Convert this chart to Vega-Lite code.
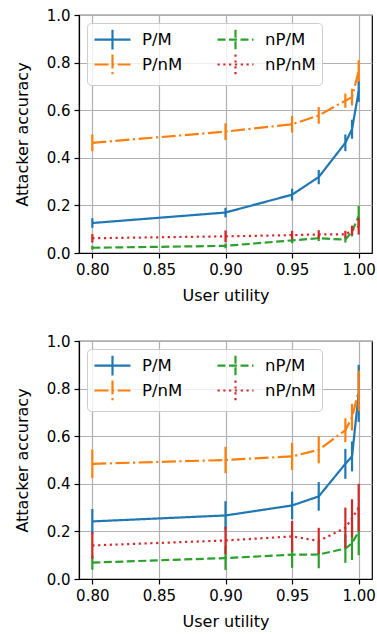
{
  "$schema": "https://vega.github.io/schema/vega-lite/v6.json",
  "background": "white",
  "padding": {"left": 13, "top": 7, "right": 5, "bottom": 5},
  "config": {
    "font": "DejaVu Sans",
    "view": {"stroke": "black", "strokeWidth": 1.2},
    "axis": {
      "domainColor": "black", "domainWidth": 1.2,
      "tickColor": "black", "tickWidth": 1.2, "tickSize": 5,
      "labelColor": "black", "titleColor": "black",
      "labelFontSize": 15, "titleFontSize": 16, "titleFontWeight": "normal",
      "labelPadding": 4,
      "gridColor": "#b0b0b0", "gridWidth": 1.2
    },
    "axisY": {"titlePadding": 16},
    "axisX": {"titlePadding": 10},
    "legend": {
      "orient": "top-left", "offset": 8, "columns": 2,
      "fillColor": "rgba(255,255,255,0.8)", "strokeColor": "#cccccc",
      "cornerRadius": 4, "padding": 6,
      "labelFontSize": 16.5, "labelColor": "black",
      "symbolType": "M-1,0H3M1,-1.1V1.1", "symbolSize": 324,
      "symbolStrokeWidth": 2.2, "labelOffset": 28,
      "columnPadding": 30, "rowPadding": -4
    }
  },
  "data": {"values": [
    {"panel": "a", "series": "P/M", "u": 0.8, "acc": 0.126, "err": 0.02},
    {"panel": "a", "series": "P/M", "u": 0.9, "acc": 0.17, "err": 0.02},
    {"panel": "a", "series": "P/M", "u": 0.95, "acc": 0.245, "err": 0.025},
    {"panel": "a", "series": "P/M", "u": 0.97, "acc": 0.319, "err": 0.03},
    {"panel": "a", "series": "P/M", "u": 0.99, "acc": 0.463, "err": 0.035},
    {"panel": "a", "series": "P/M", "u": 0.995, "acc": 0.52, "err": 0.04},
    {"panel": "a", "series": "P/M", "u": 1.0, "acc": 0.68, "err": 0.045},
    {"panel": "a", "series": "P/nM", "u": 0.8, "acc": 0.463, "err": 0.035},
    {"panel": "a", "series": "P/nM", "u": 0.9, "acc": 0.51, "err": 0.035},
    {"panel": "a", "series": "P/nM", "u": 0.95, "acc": 0.541, "err": 0.035},
    {"panel": "a", "series": "P/nM", "u": 0.97, "acc": 0.578, "err": 0.035},
    {"panel": "a", "series": "P/nM", "u": 0.99, "acc": 0.64, "err": 0.03},
    {"panel": "a", "series": "P/nM", "u": 0.995, "acc": 0.655, "err": 0.035},
    {"panel": "a", "series": "P/nM", "u": 1.0, "acc": 0.765, "err": 0.045},
    {"panel": "a", "series": "nP/M", "u": 0.8, "acc": 0.022, "err": 0.008},
    {"panel": "a", "series": "nP/M", "u": 0.9, "acc": 0.03, "err": 0.01},
    {"panel": "a", "series": "nP/M", "u": 0.95, "acc": 0.053, "err": 0.012},
    {"panel": "a", "series": "nP/M", "u": 0.97, "acc": 0.062, "err": 0.012},
    {"panel": "a", "series": "nP/M", "u": 0.99, "acc": 0.056, "err": 0.012},
    {"panel": "a", "series": "nP/M", "u": 0.995, "acc": 0.09, "err": 0.02},
    {"panel": "a", "series": "nP/M", "u": 1.0, "acc": 0.155, "err": 0.043},
    {"panel": "a", "series": "nP/nM", "u": 0.8, "acc": 0.062, "err": 0.018},
    {"panel": "a", "series": "nP/nM", "u": 0.9, "acc": 0.07, "err": 0.025},
    {"panel": "a", "series": "nP/nM", "u": 0.95, "acc": 0.075, "err": 0.018},
    {"panel": "a", "series": "nP/nM", "u": 0.97, "acc": 0.078, "err": 0.018},
    {"panel": "a", "series": "nP/nM", "u": 0.99, "acc": 0.078, "err": 0.015},
    {"panel": "a", "series": "nP/nM", "u": 0.995, "acc": 0.095, "err": 0.02},
    {"panel": "a", "series": "nP/nM", "u": 1.0, "acc": 0.112, "err": 0.035},
    {"panel": "b", "series": "P/M", "u": 0.8, "acc": 0.242, "err": 0.052},
    {"panel": "b", "series": "P/M", "u": 0.9, "acc": 0.267, "err": 0.06},
    {"panel": "b", "series": "P/M", "u": 0.95, "acc": 0.309, "err": 0.058},
    {"panel": "b", "series": "P/M", "u": 0.97, "acc": 0.347, "err": 0.06},
    {"panel": "b", "series": "P/M", "u": 0.99, "acc": 0.484, "err": 0.063},
    {"panel": "b", "series": "P/M", "u": 0.995, "acc": 0.515, "err": 0.063},
    {"panel": "b", "series": "P/M", "u": 1.0, "acc": 0.78, "err": 0.12},
    {"panel": "b", "series": "P/nM", "u": 0.8, "acc": 0.484, "err": 0.06},
    {"panel": "b", "series": "P/nM", "u": 0.9, "acc": 0.5, "err": 0.055},
    {"panel": "b", "series": "P/nM", "u": 0.95, "acc": 0.515, "err": 0.057},
    {"panel": "b", "series": "P/nM", "u": 0.97, "acc": 0.543, "err": 0.057},
    {"panel": "b", "series": "P/nM", "u": 0.99, "acc": 0.625, "err": 0.05},
    {"panel": "b", "series": "P/nM", "u": 0.995, "acc": 0.68, "err": 0.056},
    {"panel": "b", "series": "P/nM", "u": 1.0, "acc": 0.79, "err": 0.085},
    {"panel": "b", "series": "nP/M", "u": 0.8, "acc": 0.069, "err": 0.03},
    {"panel": "b", "series": "nP/M", "u": 0.9, "acc": 0.088, "err": 0.05},
    {"panel": "b", "series": "nP/M", "u": 0.95, "acc": 0.102, "err": 0.055},
    {"panel": "b", "series": "nP/M", "u": 0.97, "acc": 0.103, "err": 0.058},
    {"panel": "b", "series": "nP/M", "u": 0.99, "acc": 0.128, "err": 0.06},
    {"panel": "b", "series": "nP/M", "u": 0.995, "acc": 0.15, "err": 0.07},
    {"panel": "b", "series": "nP/M", "u": 1.0, "acc": 0.2, "err": 0.1},
    {"panel": "b", "series": "nP/nM", "u": 0.8, "acc": 0.141, "err": 0.056},
    {"panel": "b", "series": "nP/nM", "u": 0.9, "acc": 0.162, "err": 0.057},
    {"panel": "b", "series": "nP/nM", "u": 0.95, "acc": 0.179, "err": 0.065},
    {"panel": "b", "series": "nP/nM", "u": 0.97, "acc": 0.16, "err": 0.055},
    {"panel": "b", "series": "nP/nM", "u": 0.99, "acc": 0.215, "err": 0.085},
    {"panel": "b", "series": "nP/nM", "u": 0.995, "acc": 0.255, "err": 0.08},
    {"panel": "b", "series": "nP/nM", "u": 1.0, "acc": 0.3, "err": 0.1}
  ]},
  "spacing": 88,
  "bounds": "flush",
  "resolve": {"legend": {"color": "independent", "strokeDash": "independent"}},
  "vconcat": [
    {
      "width": 293, "height": 238,
      "transform": [{"filter": "datum.panel === 'a'"}],
      "encoding": {
        "x": {"field": "u", "type": "quantitative", "title": "User utility",
              "scale": {"domain": [0.79, 1.01], "nice": false, "zero": false},
              "axis": {"values": [0.8, 0.85, 0.9, 0.95, 1.0], "format": ".2f"}},
        "color": {"field": "series", "type": "nominal", "title": null,
                  "scale": {"domain": ["P/M", "P/nM", "nP/M", "nP/nM"], "range": ["#1f77b4", "#ff7f0e", "#2ca02c", "#d62728"]}}
      },
      "layer": [
        {
          "mark": {"type": "line", "strokeWidth": 2.2},
          "encoding": {
            "y": {"field": "acc", "type": "quantitative", "title": "Attacker accuracy",
                  "scale": {"domain": [0, 1], "nice": false},
                  "axis": {"values": [0, 0.2, 0.4, 0.6, 0.8, 1.0], "format": ".1f"}},
            "strokeDash": {"field": "series", "type": "nominal", "title": null,
                  "scale": {"domain": ["P/M", "P/nM", "nP/M", "nP/nM"], "range": [[1, 0], [14, 3.5, 2.2, 3.5], [8, 3.5], [2.2, 3.6]]}}
          }
        },
        {
          "mark": {"type": "errorbar", "ticks": false, "thickness": 2.2},
          "encoding": {
            "y": {"field": "acc", "type": "quantitative", "title": "Attacker accuracy"},
            "yError": {"field": "err"}
          }
        }
      ]
    },
    {
      "width": 293, "height": 238,
      "transform": [{"filter": "datum.panel === 'b'"}],
      "encoding": {
        "x": {"field": "u", "type": "quantitative", "title": "User utility",
              "scale": {"domain": [0.79, 1.01], "nice": false, "zero": false},
              "axis": {"values": [0.8, 0.85, 0.9, 0.95, 1.0], "format": ".2f"}},
        "color": {"field": "series", "type": "nominal", "title": null,
                  "scale": {"domain": ["P/M", "P/nM", "nP/M", "nP/nM"], "range": ["#1f77b4", "#ff7f0e", "#2ca02c", "#d62728"]}}
      },
      "layer": [
        {
          "mark": {"type": "line", "strokeWidth": 2.2},
          "encoding": {
            "y": {"field": "acc", "type": "quantitative", "title": "Attacker accuracy",
                  "scale": {"domain": [0, 1], "nice": false},
                  "axis": {"values": [0, 0.2, 0.4, 0.6, 0.8, 1.0], "format": ".1f"}},
            "strokeDash": {"field": "series", "type": "nominal", "title": null,
                  "scale": {"domain": ["P/M", "P/nM", "nP/M", "nP/nM"], "range": [[1, 0], [14, 3.5, 2.2, 3.5], [8, 3.5], [2.2, 3.6]]}}
          }
        },
        {
          "mark": {"type": "errorbar", "ticks": false, "thickness": 2.2},
          "encoding": {
            "y": {"field": "acc", "type": "quantitative", "title": "Attacker accuracy"},
            "yError": {"field": "err"}
          }
        }
      ]
    }
  ]
}
